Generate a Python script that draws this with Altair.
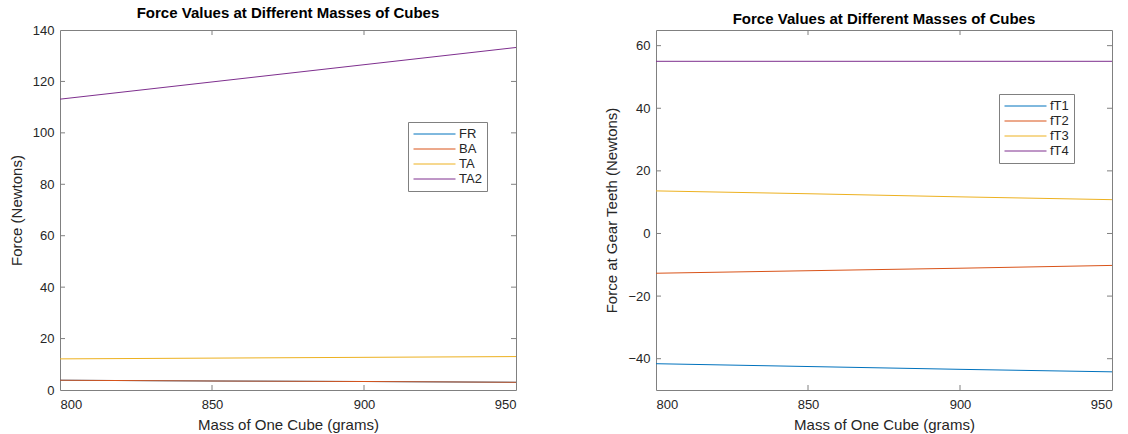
import altair as alt
import pandas as pd

# ---- data ----
mass = [800, 850, 900, 950]
x_ticks = [800, 850, 900, 950]
x_inner_ticks = [850, 900]

left_names = ["FR", "BA", "TA", "TA2"]
FR = [3.8, 3.5, 3.3, 3.0]
BA = [3.8, 3.5, 3.3, 3.0]
TA = [12.1, 12.4, 12.7, 13.0]
TA2 = [113.1, 119.8, 126.5, 133.2]
left_y_ticks = [0, 20, 40, 60, 80, 100, 120, 140]
left_y_inner = [20, 40, 60, 80, 100, 120]

right_names = ["fT1", "fT2", "fT3", "fT4"]
fT1 = [-41.6, -42.5, -43.4, -44.2]
fT2 = [-12.7, -11.9, -11.1, -10.2]
fT3 = [13.6, 12.7, 11.7, 10.8]
fT4 = [55.0, 55.0, 55.0, 55.0]
right_y_ticks = [-40, -20, 0, 20, 40, 60]

colors = ["#0072BD", "#D95319", "#EDB120", "#7E2F8E"]

FONT = "Liberation Sans"
TXT = "#262626"
BOX = "#808080"
W = 456
H = 360


def long(names, series):
    rows = []
    for n, s in zip(names, series):
        for m, v in zip(mass, s):
            rows.append({"mass": m, "value": v, "series": n})
    return pd.DataFrame(rows)


def panel(df, names, ydom, yticks, yinner, ytitle, legend):
    xs = alt.Scale(domain=[800, 950], nice=False, zero=False)
    ys = alt.Scale(domain=ydom, nice=False, zero=False)
    xaxis = alt.Axis(values=x_ticks, title="Mass of One Cube (grams)",
                     format="d", labelPadding=8, titlePadding=6)
    yaxis = alt.Axis(values=yticks, title=ytitle, format="d",
                     labelPadding=6, titlePadding=8)
    lines = alt.Chart(df).mark_line(strokeWidth=1, clip=True).encode(
        x=alt.X("mass:Q", scale=xs, axis=xaxis),
        y=alt.Y("value:Q", scale=ys, axis=yaxis),
        color=alt.Color("series:N", sort=names,
                        scale=alt.Scale(domain=names, range=colors),
                        legend=legend),
    )
    xt = pd.DataFrame({"mass": x_inner_ticks})
    yt = pd.DataFrame({"value": yinner})
    tb = alt.Chart(xt).mark_rule(color=BOX, strokeWidth=1).encode(
        x=alt.X("mass:Q", scale=xs, axis=xaxis), y=alt.value(H), y2=alt.value(H - 5))
    tt = alt.Chart(xt).mark_rule(color=BOX, strokeWidth=1).encode(
        x=alt.X("mass:Q", scale=xs, axis=xaxis), y=alt.value(0), y2=alt.value(5))
    tl = alt.Chart(yt).mark_rule(color=BOX, strokeWidth=1).encode(
        y=alt.Y("value:Q", scale=ys, axis=yaxis), x=alt.value(0), x2=alt.value(5))
    tr = alt.Chart(yt).mark_rule(color=BOX, strokeWidth=1).encode(
        y=alt.Y("value:Q", scale=ys, axis=yaxis), x=alt.value(W - 5), x2=alt.value(W))
    return alt.layer(lines, tb, tt, tl, tr).properties(
        width=W, height=H,
        title=alt.TitleParams("Force Values at Different Masses of Cubes",
                              fontSize=15, fontWeight="bold", font=FONT,
                              color="#000000", anchor="middle", offset=3),
    )


legend_common = dict(title=None, orient="none", symbolType="stroke",
                     symbolSize=1764, symbolStrokeWidth=1, labelOffset=3,
                     labelFontSize=13, labelFont=FONT, labelColor=TXT,
                     strokeColor=BOX, fillColor="white", padding=5,
                     clipHeight=14, rowPadding=1)

left_legend = alt.Legend(legendX=348, legendY=92, **legend_common)
right_legend = alt.Legend(legendX=343, legendY=64, **legend_common)

left = panel(long(left_names, [FR, BA, TA, TA2]), left_names, [0, 140],
             left_y_ticks, left_y_inner, "Force (Newtons)", left_legend)
right = panel(long(right_names, [fT1, fT2, fT3, fT4]), right_names, [-50, 65],
              right_y_ticks, right_y_ticks, "Force at Gear Teeth (Newtons)", right_legend)

chart = alt.hconcat(left, right, spacing=140, bounds="flush").resolve_scale(
    color="independent"
).properties(
    autosize=alt.AutoSizeParams(type="none"),
    padding={"left": 60, "top": 30, "right": 1068, "bottom": 404},
    background="white",
).configure_view(
    stroke=BOX, strokeWidth=1
).configure_axis(
    grid=False, ticks=False, domain=False,
    labelFont=FONT, labelFontSize=13, labelColor=TXT,
    titleFont=FONT, titleFontSize=15, titleFontWeight="normal", titleColor=TXT,
)

chart.save("out.html", embed_options={"renderer": "svg", "actions": False})
